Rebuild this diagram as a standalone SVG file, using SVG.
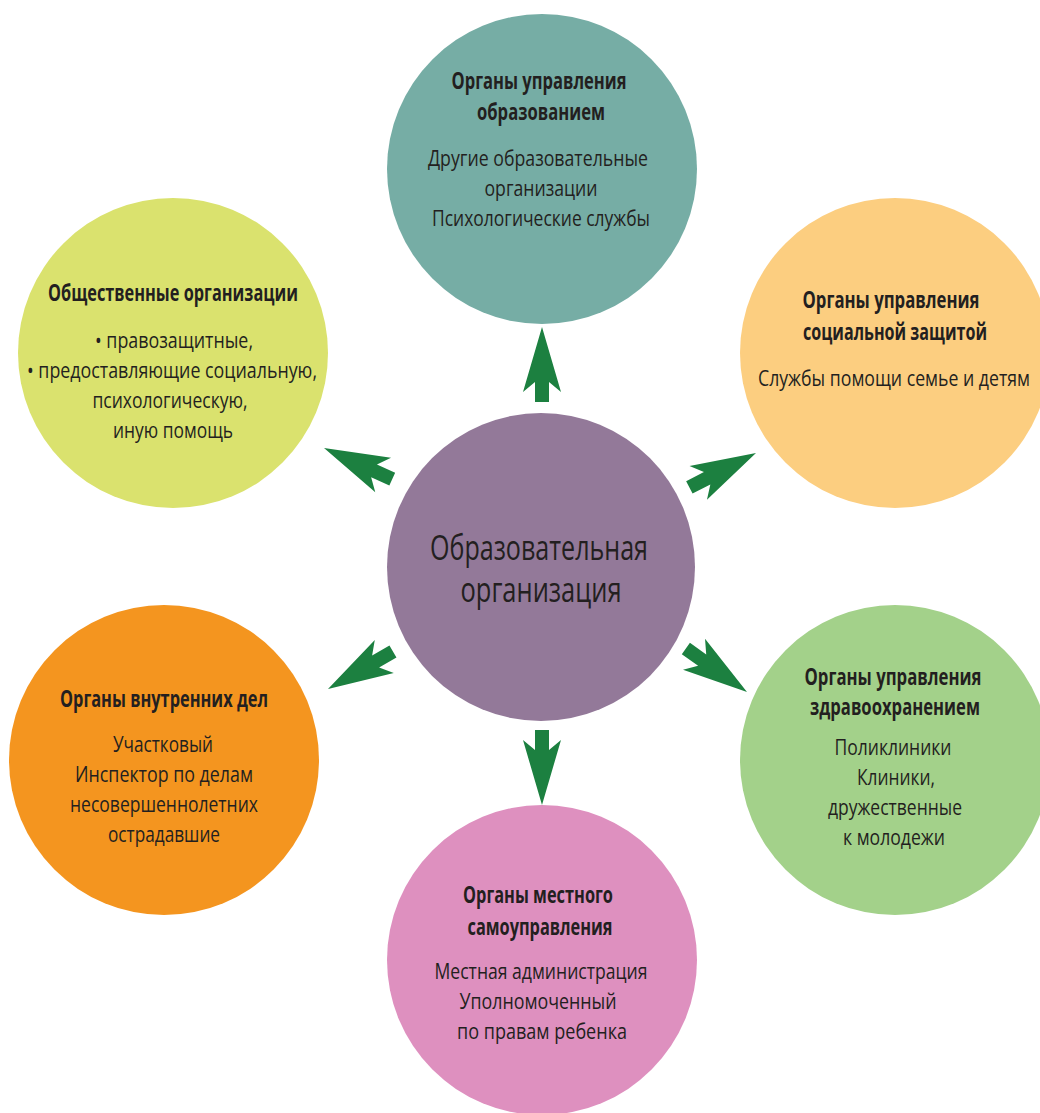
<svg xmlns="http://www.w3.org/2000/svg" width="1040" height="1113" viewBox="0 0 1040 1113">
<defs>
<style>
.t{font-family:"Open Sans","Noto Sans","Liberation Sans",sans-serif;fill:#231F20;text-anchor:middle}
.h{font-size:24px;font-weight:700}
.b{font-size:22px;font-weight:400}
.c{font-size:34px;font-weight:400}
.arr{fill:#1C8040}
</style>
<path id="ar" d="M0,0 L19,65 L7,55 L7,75 L-7,75 L-7,55 L-19,65 Z"/>
</defs>
<rect width="1040" height="1113" fill="#FFFFFF"/>

<g id="node-top">
<circle cx="542" cy="169" r="155" fill="#76ADA5"/>
<text class="t h" x="539" y="89" textLength="175" lengthAdjust="spacingAndGlyphs">Органы управления</text>
<text class="t h" x="541" y="120" textLength="128" lengthAdjust="spacingAndGlyphs">образованием</text>
<text class="t b" x="538" y="166" textLength="220" lengthAdjust="spacingAndGlyphs">Другие образовательные</text>
<text class="t b" x="541" y="196" textLength="113" lengthAdjust="spacingAndGlyphs">организации</text>
<text class="t b" x="541" y="226" textLength="218" lengthAdjust="spacingAndGlyphs">Психологические службы</text>
</g>

<g id="node-public">
<circle cx="173" cy="353" r="155" fill="#DAE26E"/>
<text class="t h" x="173" y="301" textLength="250" lengthAdjust="spacingAndGlyphs">Общественные организации</text>
<text class="t b" x="174" y="348" textLength="158" lengthAdjust="spacingAndGlyphs">• правозащитные,</text>
<text class="t b" x="172" y="378" textLength="290" lengthAdjust="spacingAndGlyphs">• предоставляющие социальную,</text>
<text class="t b" x="170" y="408" textLength="155" lengthAdjust="spacingAndGlyphs">психологическую,</text>
<text class="t b" x="173" y="438" textLength="120" lengthAdjust="spacingAndGlyphs">иную помощь</text>
</g>

<g id="node-social">
<circle cx="895" cy="353" r="155" fill="#FCCE80"/>
<text class="t h" x="891" y="308" textLength="177" lengthAdjust="spacingAndGlyphs">Органы управления</text>
<text class="t h" x="895" y="340" textLength="184" lengthAdjust="spacingAndGlyphs">социальной защитой</text>
<text class="t b" x="894" y="386" textLength="272" lengthAdjust="spacingAndGlyphs">Службы помощи семье и детям</text>
</g>

<g id="node-center">
<circle cx="541" cy="567" r="154" fill="#937999"/>
<text class="t c" x="539" y="560" textLength="218" lengthAdjust="spacingAndGlyphs">Образовательная</text>
<text class="t c" x="541" y="602" textLength="161" lengthAdjust="spacingAndGlyphs">организация</text>
</g>

<g id="node-police">
<circle cx="164" cy="760" r="155" fill="#F4951F"/>
<text class="t h" x="164" y="707" textLength="208" lengthAdjust="spacingAndGlyphs">Органы внутренних дел</text>
<text class="t b" x="163" y="752" textLength="100" lengthAdjust="spacingAndGlyphs">Участковый</text>
<text class="t b" x="164" y="782" textLength="178" lengthAdjust="spacingAndGlyphs">Инспектор по делам</text>
<text class="t b" x="164" y="812" textLength="188" lengthAdjust="spacingAndGlyphs">несовершеннолетних</text>
<text class="t b" x="164" y="842" textLength="112" lengthAdjust="spacingAndGlyphs">острадавшие</text>
</g>

<g id="node-health">
<circle cx="895" cy="760" r="155" fill="#A3D18A"/>
<text class="t h" x="893" y="685" textLength="177" lengthAdjust="spacingAndGlyphs">Органы управления</text>
<text class="t h" x="895" y="715" textLength="170" lengthAdjust="spacingAndGlyphs">здравоохранением</text>
<text class="t b" x="893" y="755" textLength="117" lengthAdjust="spacingAndGlyphs">Поликлиники</text>
<text class="t b" x="896" y="785" textLength="78" lengthAdjust="spacingAndGlyphs">Клиники,</text>
<text class="t b" x="895" y="815" textLength="134" lengthAdjust="spacingAndGlyphs">дружественные</text>
<text class="t b" x="894" y="845" textLength="102" lengthAdjust="spacingAndGlyphs">к молодежи</text>
</g>

<g id="node-local">
<circle cx="542" cy="960" r="155" fill="#DE90BF"/>
<text class="t h" x="538" y="903" textLength="150" lengthAdjust="spacingAndGlyphs">Органы местного</text>
<text class="t h" x="540" y="935" textLength="145" lengthAdjust="spacingAndGlyphs">самоуправления</text>
<text class="t b" x="541" y="979" textLength="213" lengthAdjust="spacingAndGlyphs">Местная администрация</text>
<text class="t b" x="538" y="1009" textLength="157" lengthAdjust="spacingAndGlyphs">Уполномоченный</text>
<text class="t b" x="542" y="1039" textLength="170" lengthAdjust="spacingAndGlyphs">по правам ребенка</text>
</g>

<g id="connectors" class="arr">
<use href="#ar" transform="translate(542,327)"/>
<use href="#ar" transform="translate(542,805) rotate(180)"/>
<use href="#ar" transform="translate(324,448) rotate(-65.5)"/>
<use href="#ar" transform="translate(756,453) rotate(62.7)"/>
<use href="#ar" transform="translate(328,689) rotate(-120)"/>
<use href="#ar" transform="translate(747,692) rotate(125.4)"/>
</g>
</svg>
